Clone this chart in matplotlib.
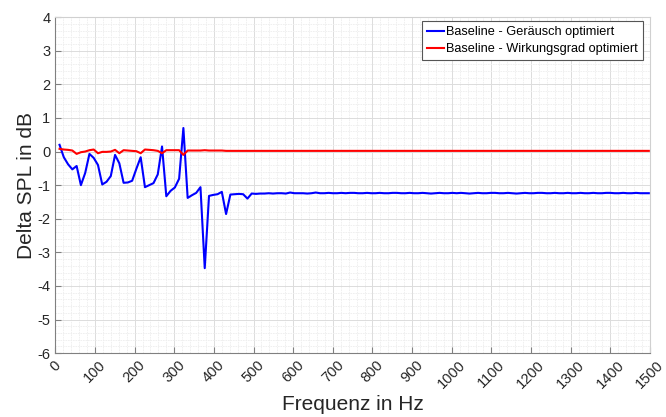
import numpy as np
import matplotlib
matplotlib.use("Agg")
import matplotlib.pyplot as plt
from matplotlib.ticker import MultipleLocator

# FFT bin spacing (44.1 kHz / 4096), bins 1..139
df = 10.77
n_bins = 139

# Baseline - Geräusch optimiert (dB), bins 1..46
blue_low = [0.20, -0.17, -0.38, -0.53, -0.43, -1.00, -0.64, -0.07, -0.19, -0.40,
            -0.98, -0.90, -0.73, -0.10, -0.35, -0.93, -0.92, -0.87, -0.51, -0.17,
            -1.06, -1.00, -0.94, -0.68, 0.15, -1.33, -1.17, -1.07, -0.81, 0.70,
            -1.38, -1.30, -1.23, -1.06, -3.47, -1.32, -1.29, -1.27, -1.20, -1.86,
            -1.28, -1.27, -1.26, -1.27, -1.40, -1.25]
# flat part, bins 47..139
blue_high = [-1.26, -1.25, -1.25, -1.24, -1.25, -1.24, -1.24, -1.25, -1.22, -1.24,
             -1.24, -1.24, -1.25, -1.24, -1.22, -1.24, -1.24, -1.23, -1.24, -1.24,
             -1.23, -1.24, -1.23, -1.23, -1.24, -1.24, -1.23, -1.24, -1.24, -1.23,
             -1.24, -1.24, -1.23, -1.23, -1.24, -1.24, -1.23, -1.24, -1.24, -1.23,
             -1.24, -1.25, -1.24, -1.23, -1.24, -1.24, -1.23, -1.24, -1.23, -1.24,
             -1.25, -1.24, -1.23, -1.24, -1.24, -1.23, -1.23, -1.24, -1.24, -1.23,
             -1.24, -1.25, -1.24, -1.23, -1.24, -1.24, -1.23, -1.23, -1.24, -1.24,
             -1.23, -1.24, -1.24, -1.23, -1.24, -1.24, -1.23, -1.24, -1.24, -1.23,
             -1.24, -1.24, -1.23, -1.23, -1.24, -1.24, -1.23, -1.24, -1.24, -1.23,
             -1.24, -1.24, -1.24]

# Baseline - Wirkungsgrad optimiert (dB), bins 1..40
red_low = [0.08, 0.06, 0.05, 0.03, -0.07, -0.02, 0.00, 0.04, 0.06, -0.05,
           -0.01, -0.01, 0.00, 0.05, -0.05, 0.04, 0.03, 0.02, 0.01, -0.05,
           0.06, 0.05, 0.04, 0.02, -0.05, 0.04, 0.04, 0.04, 0.04, -0.10,
           0.03, 0.03, 0.03, 0.03, 0.04, 0.03, 0.03, 0.03, 0.03, 0.02]
red_high = [0.02] * (n_bins - len(red_low))

freq = df * np.arange(1, n_bins + 1)
blue = np.array(blue_low + blue_high)
red = np.array(red_low + red_high)

plt.rcParams["font.family"] = ["Liberation Sans", "DejaVu Sans"]
plt.rcParams["axes.unicode_minus"] = False

fig = plt.figure(figsize=(6.66, 4.17), dpi=100)
ax = fig.add_axes([0.083, 0.153, 0.893, 0.806])

ax.plot(freq, blue, color=(0, 0, 1), lw=1.5, label="Baseline - Geräusch optimiert")
ax.plot(freq, red, color=(1, 0, 0), lw=1.5, label="Baseline - Wirkungsgrad optimiert")

ax.set_xlim(0, 1500)
ax.set_ylim(-6, 4)
ax.xaxis.set_major_locator(MultipleLocator(100))
ax.xaxis.set_minor_locator(MultipleLocator(20))
ax.yaxis.set_major_locator(MultipleLocator(1))
ax.yaxis.set_minor_locator(MultipleLocator(0.2))

ax.grid(True, which="major", color="#dcdcdc", lw=0.7)
ax.grid(True, which="minor", color="#eeeeee", lw=0.6, ls=(0, (2, 1)))
ax.set_axisbelow(True)

ax.tick_params(which="major", direction="in", length=4, color="#808080",
               labelsize=10.5, labelcolor="#262626")
ax.tick_params(which="minor", length=0)
for lbl in ax.get_xticklabels():
    lbl.set_rotation(45)
    lbl.set_ha("center")
    lbl.set_va("top")

for side in ["left", "bottom"]:
    ax.spines[side].set_color("#808080")
for side in ["top", "right"]:
    ax.spines[side].set_color("#d0d0d0")

ax.set_xlabel("Frequenz in Hz", fontsize=15, color="#262626", labelpad=3)
ax.set_ylabel("Delta SPL in dB", fontsize=15, color="#262626", labelpad=1)

leg = ax.legend(loc="upper right", bbox_to_anchor=(0.988, 0.988), borderaxespad=0,
                fontsize=9.2, fancybox=False, framealpha=1, edgecolor="#555555",
                handlelength=1.3, handletextpad=0.15, borderpad=0.4, labelspacing=0.4)
leg.get_frame().set_linewidth(0.8)

fig.savefig("out.png", dpi=100)
